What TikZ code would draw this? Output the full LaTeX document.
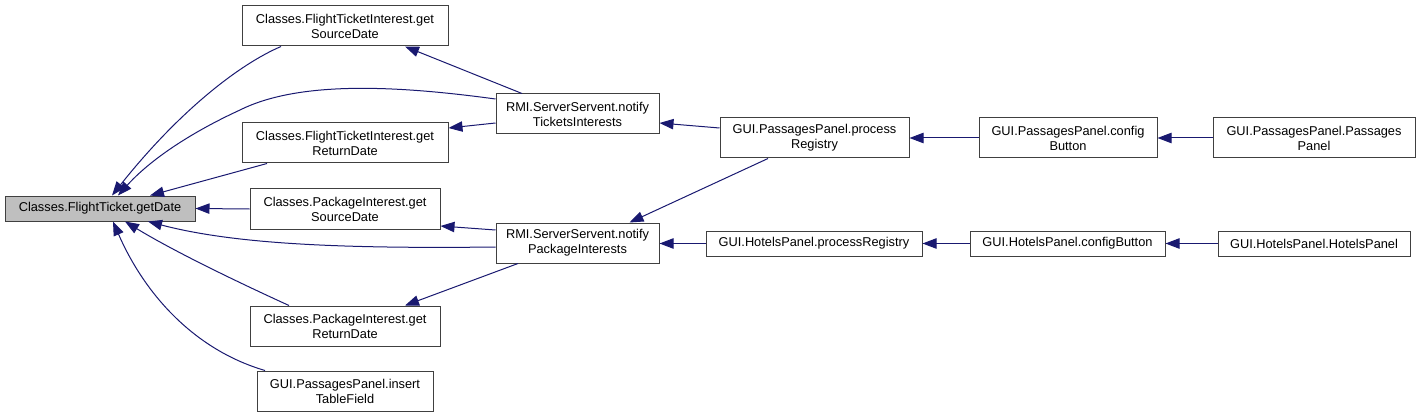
\documentclass[tikz,border=0pt]{standalone}
\usepackage{fontspec}
\setmainfont{Liberation Sans}
\usetikzlibrary{arrows.meta,calc}
\definecolor{edgecol}{HTML}{191970}
\definecolor{boxcol}{HTML}{404040}
\definecolor{cur}{HTML}{BFBFBF}
\begin{document}
\begin{tikzpicture}[x=0.75pt,y=-0.75pt,
  box/.style={draw=boxcol,line width=0.75pt,rectangle,inner sep=0pt,align=center,
    font=\fontsize{9.6}{11.25}\selectfont},
  call/.style={draw=edgecol,line width=0.75pt,-{Triangle[length=10.5pt,width=7.8pt]}}]
\useasboundingbox (0,0) rectangle (1420,417);
% nodes
\node[box,fill=cur,minimum width=190*0.75pt,minimum height=25*0.75pt] (gd) at (100,208.5) {Classes.FlightTicket.getDate};
\node[box,minimum width=206*0.75pt,minimum height=40*0.75pt] (ftis) at (345,26) {Classes.FlightTicketInterest.get\\SourceDate};
\node[box,minimum width=206*0.75pt,minimum height=40*0.75pt] (ftir) at (345,143) {Classes.FlightTicketInterest.get\\ReturnDate};
\node[box,minimum width=190*0.75pt,minimum height=40*0.75pt] (pis) at (345,209) {Classes.PackageInterest.get\\SourceDate};
\node[box,minimum width=190*0.75pt,minimum height=40*0.75pt] (pir) at (345,326) {Classes.PackageInterest.get\\ReturnDate};
\node[box,minimum width=176*0.75pt,minimum height=40*0.75pt] (itf) at (345,391) {GUI.PassagesPanel.insert\\TableField};
\node[box,minimum width=163*0.75pt,minimum height=40*0.75pt] (nti) at (577.5,114) {RMI.ServerServent.notify\\TicketsInterests};
\node[box,minimum width=163*0.75pt,minimum height=40*0.75pt] (npi) at (577.5,243) {RMI.ServerServent.notify\\PackageInterests};
\node[box,minimum width=189*0.75pt,minimum height=40*0.75pt] (ppr) at (814.5,138) {GUI.PassagesPanel.process\\Registry};
\node[box,minimum width=216*0.75pt,minimum height=25*0.75pt] (hpr) at (814,243.5) {GUI.HotelsPanel.processRegistry};
\node[box,minimum width=178*0.75pt,minimum height=40*0.75pt] (pcb) at (1068,138) {GUI.PassagesPanel.config\\Button};
\node[box,minimum width=202*0.75pt,minimum height=40*0.75pt] (ppp) at (1314,138) {GUI.PassagesPanel.Passages\\Panel};
\node[box,minimum width=195*0.75pt,minimum height=25*0.75pt] (hcb) at (1067.5,243.5) {GUI.HotelsPanel.configButton};
\node[box,minimum width=192*0.75pt,minimum height=25*0.75pt] (hhp) at (1314,243.5) {GUI.HotelsPanel.HotelsPanel};
% edges to getDate
\draw[call] ($(ftis.south)+(-64,0)$) .. controls (240,64) and (180,110) .. ($(gd.north)+(12,0)$);
\draw[call] ($(nti.west)+(0,-15)$) .. controls (400,86) and (300,80) .. (240,110) .. controls (190,133) and (150,160) .. ($(gd.north)+(18,0)$);
\draw[call] ($(ftir.south)+(-78,0)$) -- ($(gd.north)+(50,0)$);
\draw[call] (pis.west) -- (gd.east);
\draw[call] ($(npi.west)+(0,4)$) .. controls (330,249) and (230,243) .. ($(gd.south)+(48,0)$);
\draw[call] ($(pir.north)+(-56,0)$) .. controls (255,290) and (180,255) .. ($(gd.south)+(25,0)$);
\draw[call] ($(itf.north)+(-80,0)$) .. controls (195,350) and (145,295) .. ($(gd.south)+(13,0)$);
% other edges
\draw[call] ($(nti.north)+(-55.5,0)$) -- ($(ftis.south)+(60,0)$);
\draw[call] ($(nti.west)+(0,9)$) -- ($(ftir.east)+(0,-15)$);
\draw[call] ($(npi.west)+(0,-13)$) -- ($(pis.east)+(0,17)$);
\draw[call] ($(npi.south)+(-59.5,0)$) -- ($(pir.north)+(60,0)$);
\draw[call] ($(ppr.west)+(0,-10)$) -- ($(nti.east)+(0,9)$);
\draw[call] ($(ppr.south)+(-46.5,0)$) -- ($(npi.north)+(52,0)$);
\draw[call] (hpr.west) -- (npi.east |- hpr.west);
\draw[call] (pcb.west) -- (ppr.east);
\draw[call] (ppp.west) -- (pcb.east);
\draw[call] (hcb.west) -- (hpr.east);
\draw[call] (hhp.west) -- (hcb.east);
\end{tikzpicture}
\end{document}
